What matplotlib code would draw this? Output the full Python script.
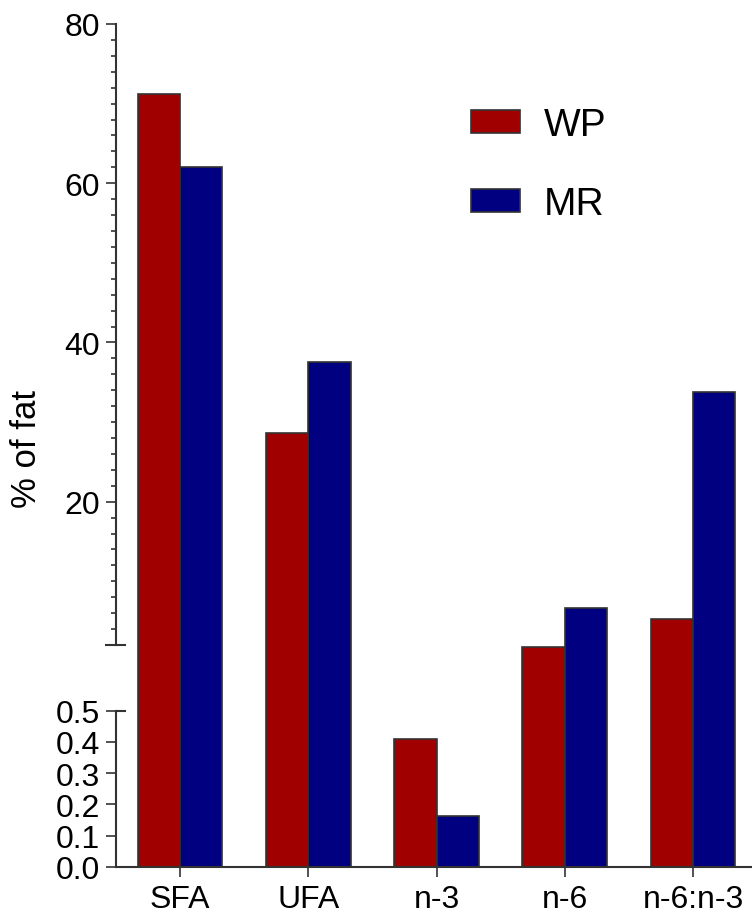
import matplotlib
matplotlib.use('Agg')
import matplotlib.pyplot as plt
import numpy as np

plt.rcParams['font.family'] = ['Liberation Sans', 'DejaVu Sans']

categories = ['SFA', 'UFA', 'n-3', 'n-6', 'n-6:n-3']
wp_values = [71.2, 28.6, 0.41, 1.95, 5.3]
mr_values = [62.1, 37.6, 0.163, 6.6, 33.8]
series_names = ['WP', 'MR']

major_ticks = [0.0, 0.1, 0.2, 0.3, 0.4, 0.5, 20, 40, 60, 80]
major_labels = ['0.0', '0.1', '0.2', '0.3', '0.4', '0.5', '20', '40', '60', '80']
minor_ticks = [v for v in range(4, 80, 2) if v % 20 != 0]

# broken axis: 0-0.5 and 2-80, gap between drawn linearly
seg_low_top = 0.5
seg_high_bottom = 2.0
knots_data = [0.0, seg_low_top, seg_high_bottom, 80.0]
knots_disp = [0.0, 156.3, 222.0, 843.0]


def forward(v):
    return np.interp(v, knots_data, knots_disp)


def inverse(d):
    return np.interp(d, knots_disp, knots_data)


red = '#a00000'
blue = '#000080'
edge = '#333333'

fig = plt.figure(figsize=(7.52, 9.2), dpi=100)
ax = fig.add_axes([116 / 752, 1 - 868 / 920, 1 - 116 / 752, (868 - 25) / 920])
ax.set_yscale('function', functions=(forward, inverse))

x = np.arange(len(categories))
w = 0.33
ax.bar(x - w / 2, wp_values, w, color=red, edgecolor=edge, linewidth=1.2, label=series_names[0])
ax.bar(x + w / 2, mr_values, w, color=blue, edgecolor=edge, linewidth=1.2, label=series_names[1])

ax.set_xlim(-0.5, 4.46)
ax.set_ylim(0, 80)

for s in ['top', 'right', 'left']:
    ax.spines[s].set_visible(False)
ax.spines['bottom'].set_linewidth(1.5)
ax.spines['bottom'].set_color('#333333')

# left axis in two pieces
ytr = ax.get_yaxis_transform()
ax.plot([0, 0], [0, seg_low_top], color='#333333', lw=1.5, transform=ytr, clip_on=False)
ax.plot([0, 0], [seg_high_bottom, 80], color='#333333', lw=1.5, transform=ytr, clip_on=False)
# crossing ticks at the break ends
tw = 9 / 636
ax.plot([0, tw], [seg_low_top, seg_low_top], color='#333333', lw=1.5, transform=ytr, clip_on=False)
ax.plot([-tw * 1.1, tw], [seg_high_bottom, seg_high_bottom], color='#333333', lw=1.5,
        transform=ytr, clip_on=False)

ax.set_yticks(major_ticks)
ax.set_yticklabels(major_labels)
ax.set_yticks(minor_ticks, minor=True)
ax.tick_params(axis='y', which='major', length=7.5, width=1.2, color='#333333', labelsize=23, pad=4)
ax.tick_params(axis='y', which='minor', length=3.8, width=1.2, color='#333333')

ax.set_xticks(x)
ax.set_xticklabels(categories)
ax.tick_params(axis='x', length=7.5, width=1.2, color='#333333', labelsize=23, pad=5)

fig.text(26 / 752, 1 - 449 / 920, '% of fat', rotation=90, fontsize=25, ha='center', va='center')

ax.legend(frameon=False, loc='upper left', bbox_to_anchor=(452 / 752, 1 - 89 / 920),
          bbox_transform=fig.transFigure, fontsize=28, handlelength=1.25, handleheight=0.55,
          handletextpad=0.6, labelspacing=1.1, borderpad=0)

fig.savefig('out.png', dpi=100)
